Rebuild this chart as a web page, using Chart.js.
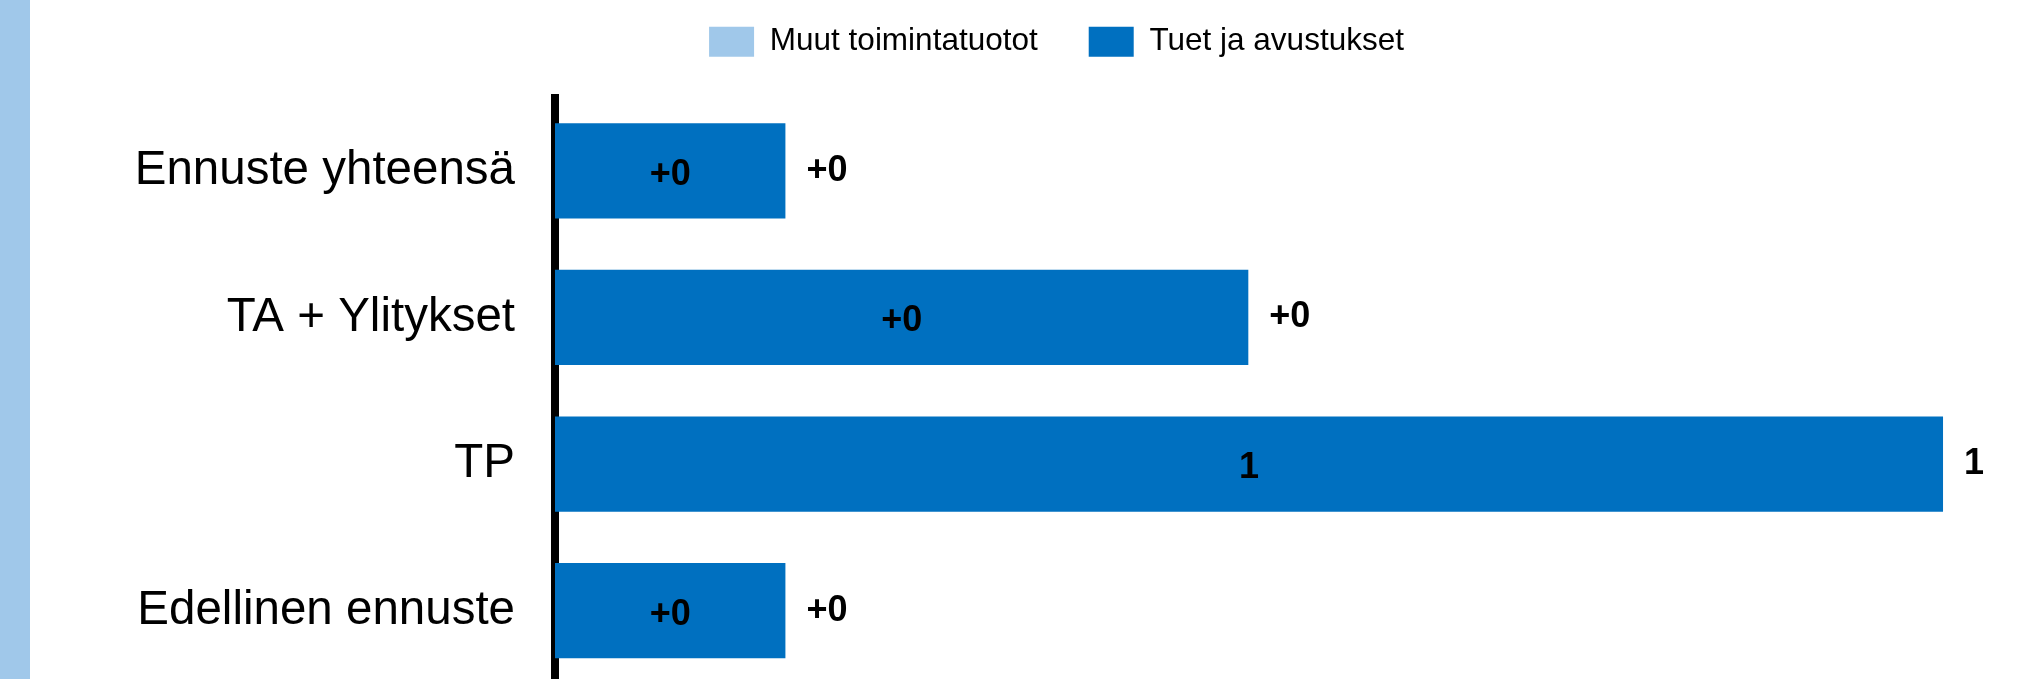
<!DOCTYPE html>
<html lang="fi">
<head>
    <meta charset="UTF-8">
    <title>Toimintatuotot</title>
    <script src="https://cdn.jsdelivr.net/npm/chart.js"></script>
    <style>
        html, body { margin: 0; padding: 0; background: #fff; overflow: hidden; }
        #wrap { position: relative; width: 2019px; height: 679px; overflow: hidden; }
        #strip { position: absolute; left: 0; top: 0; width: 30px; height: 100%; background: #A0C8EA; }
    </style>
</head>
<body>
    <div id="wrap">
        <canvas id="chart" width="2019" height="684"></canvas>
        <div id="strip"></div>
    </div>

    <script>
        // Categories and series
        const categories = ['Ennuste yhteensä', 'TA + Ylitykset', 'TP', 'Edellinen ennuste'];
        const muutToimintatuotot = [0, 0, 0, 0];
        const tuetJaAvustukset = [0.166, 0.4995, 1, 0.166];

        // Labels shown on and after the bars
        const barLabels = ['+0', '+0', '1', '+0'];
        const totalLabels = ['+0', '+0', '1', '+0'];

        const FONT = 'Arial, "Liberation Sans", sans-serif';

        // Legend: a bit more room below it, and drawn higher up
        const legendPlacement = {
            id: 'legendPlacement',
            beforeInit(chart) {
                if (!chart.legend) return;
                const fit = chart.legend.fit;
                chart.legend.fit = function () {
                    fit.call(this);
                    this.height += 5;
                };
            },
            afterLayout(chart) {
                if (!chart.legend) return;
                chart.legend.top -= 25;
                chart.legend.bottom -= 25;
            }
        };

        // Value labels inside the bar and at its end
        const valueLabels = {
            id: 'valueLabels',
            afterDatasetsDraw(chart) {
                const ctx = chart.ctx;
                const bars = chart.getDatasetMeta(1).data;
                ctx.save();
                ctx.font = 'bold 36px ' + FONT;
                ctx.fillStyle = '#000';
                ctx.textBaseline = 'middle';
                bars.forEach((bar, i) => {
                    ctx.textAlign = 'center';
                    ctx.fillText(barLabels[i], (bar.base + bar.x) / 2, bar.y + 4);
                    ctx.textAlign = 'left';
                    ctx.fillText(totalLabels[i], bar.x + 21, bar.y);
                });
                ctx.restore();
            }
        };

        new Chart(document.getElementById('chart'), {
            type: 'bar',
            data: {
                labels: categories,
                datasets: [
                    {
                        label: 'Muut toimintatuotot',
                        data: muutToimintatuotot,
                        backgroundColor: '#A0C8EA',
                        borderWidth: 0
                    },
                    {
                        label: 'Tuet ja avustukset',
                        data: tuetJaAvustukset,
                        backgroundColor: '#0070C0',
                        borderWidth: 0
                    }
                ]
            },
            options: {
                indexAxis: 'y',
                responsive: false,
                animation: false,
                devicePixelRatio: 1,
                categoryPercentage: 1,
                barPercentage: 0.65,
                layout: {
                    padding: { top: 0, left: 120, right: 26, bottom: 0 }
                },
                plugins: {
                    legend: {
                        position: 'top',
                        labels: {
                            boxWidth: 45,
                            boxHeight: 30,
                            padding: 51,
                            color: '#000',
                            font: { family: FONT, size: 31.5 }
                        }
                    },
                    tooltip: { enabled: false }
                },
                scales: {
                    x: {
                        stacked: true,
                        display: false,
                        min: 0,
                        max: 1.036
                    },
                    y: {
                        stacked: true,
                        z: 1,
                        grid: { display: false, drawTicks: false },
                        border: { display: true, color: '#000', width: 8 },
                        ticks: {
                            padding: 40,
                            color: '#000',
                            font: { family: FONT, size: 47.5 }
                        },
                        afterFit(axis) {
                            axis.width = 435;
                            axis.paddingTop = 0;
                            axis.paddingBottom = 0;
                        }
                    }
                }
            },
            plugins: [legendPlacement, valueLabels]
        });
    </script>
</body>
</html>
